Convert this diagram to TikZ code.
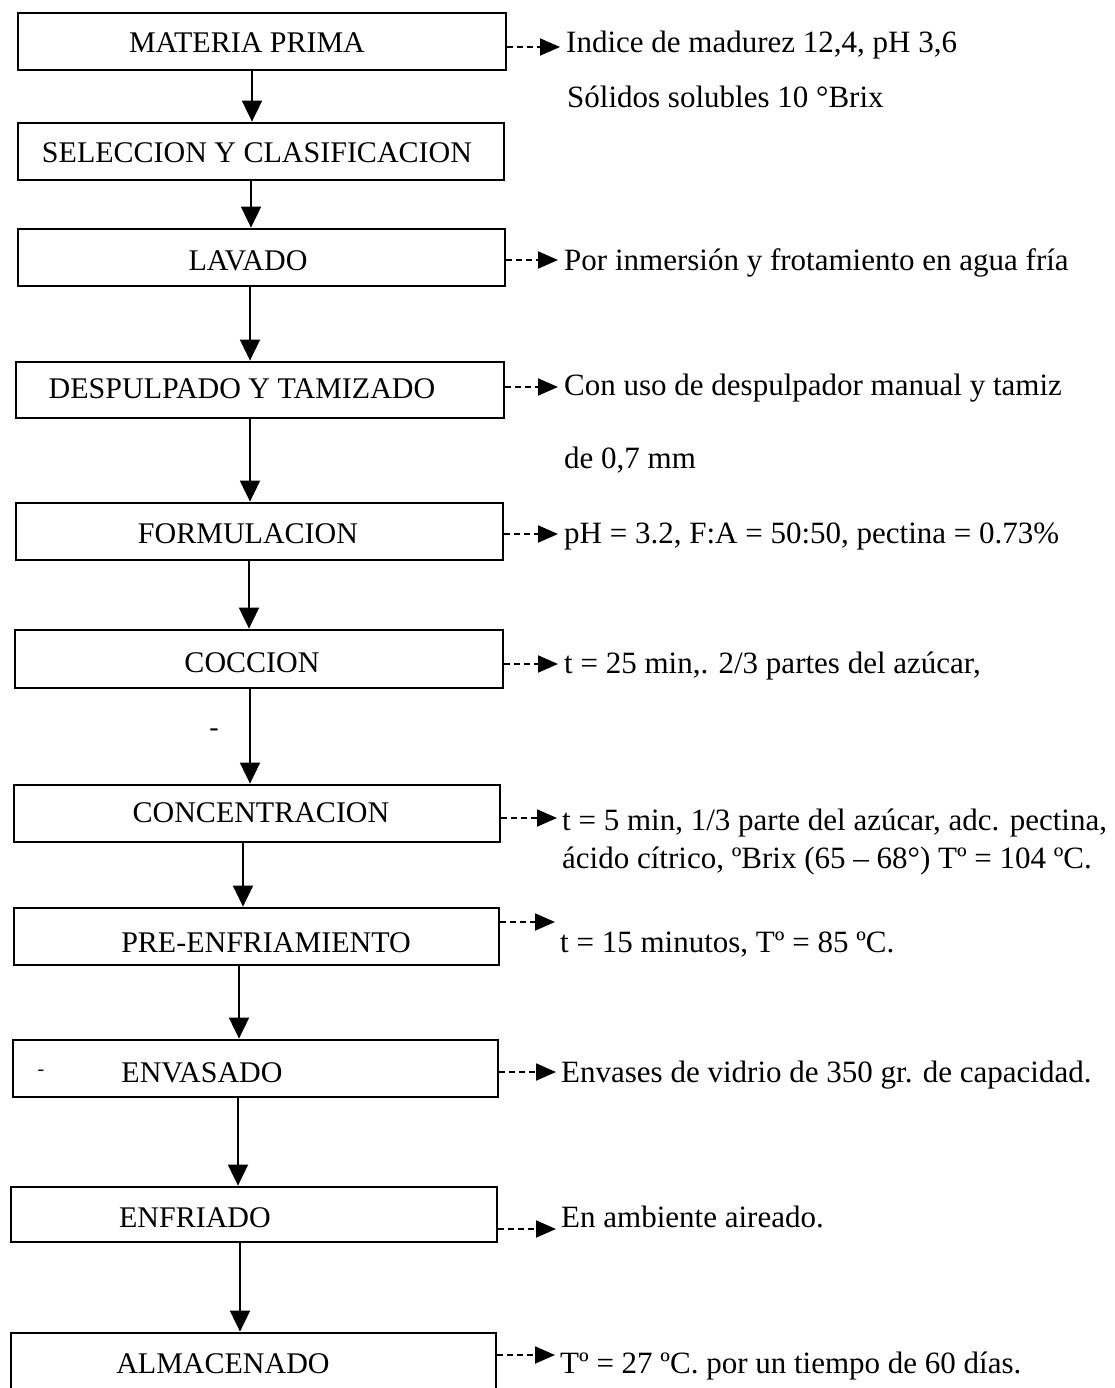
\documentclass[tikz,border=0pt]{standalone}
\usepackage{fontspec}
\setmainfont{Liberation Serif}
\usetikzlibrary{arrows.meta}
\begin{document}
\begin{tikzpicture}[x=1pt,y=-1pt,
  box/.style={draw, line width=2.8pt, inner sep=0pt, minimum height=57pt},
  lbl/.style={anchor=base, inner sep=0pt, font=\fontsize{30}{36}\selectfont},
  note/.style={anchor=base west, inner sep=0pt, font=\fontsize{31}{38}\selectfont},
  straymark/.style={anchor=base, inner sep=0pt, font=\fontsize{28}{32}\selectfont},
  flow/.style={line width=1.9pt, -{Triangle[length=21pt,width=20pt]}},
  side/.style={line width=1.9pt, dash pattern=on 6pt off 4pt, -{Triangle[length=20pt,width=17pt]}},
]
\useasboundingbox[fill=white] (0,0) rectangle (1115,1388);

% boxes
\node[box, minimum width=488pt] (b1) at (262,41.5) {};
\node[box, minimum width=486pt] (b2) at (261,151.5) {};
\node[box, minimum width=487pt] (b3) at (261.5,257.5) {};
\node[box, minimum width=488pt, minimum height=56pt] (b4) at (260,390) {};
\node[box, minimum width=487pt] (b5) at (259.5,531.5) {};
\node[box, minimum width=488pt, minimum height=58pt] (b6) at (259,659) {};
\node[box, minimum width=486pt] (b7) at (257,813.5) {};
\node[box, minimum width=485pt] (b8) at (256.5,936.5) {};
\node[box, minimum width=485pt] (b9) at (255.5,1068.5) {};
\node[box, minimum width=486pt, minimum height=55pt] (b10) at (254,1214.5) {};
\node[box, minimum width=485pt, minimum height=59pt] (b11) at (253.5,1362.5) {};

% box labels
\node[lbl] (t1) at (247,53) {MATERIA PRIMA};
\node[lbl] (t2) at (257,163) {SELECCION Y CLASIFICACION};
\node[lbl] (t3) at (248,270) {LAVADO};
\node[lbl] (t4) at (242,398) {DESPULPADO Y TAMIZADO};
\node[lbl] (t5) at (248,543) {FORMULACION};
\node[lbl] (t6) at (252,672) {COCCION};
\node[lbl] (t7) at (261,822) {CONCENTRACION};
\node[lbl] (t8) at (266,952) {PRE-ENFRIAMIENTO};
\node[lbl] (t9) at (202,1082) {ENVASADO};
\node[lbl] (t10) at (195,1227) {ENFRIADO};
\node[lbl] (t11) at (223,1373) {ALMACENADO};

% stray marks
\node[straymark] (m1) at (214,736) {-};
\node[straymark, font=\fontsize{20}{24}\selectfont] (m2) at (41,1075) {-};

% side notes
\node[note] (n1) at (566,53) {Indice de madurez 12,4, pH 3,6};
\node[note] (n1b) at (567,108) {Sólidos solubles 10 °Brix};
\node[note] (n3) at (564,270) {Por inmersión y frotamiento en agua fría};
\node[note] (n4) at (564,395) {Con uso de despulpador manual y tamiz};
\node[note] (n4b) at (564,468) {de 0,7 mm};
\node[note] (n5) at (564,543) {pH = 3.2, F:A = 50:50, pectina = 0.73\%};
\node[note] (n6) at (564,673) {t = 25 min,. 2/3 partes del azúcar,};
\node[note] (n7) at (562,830) {t = 5 min, 1/3 parte del azúcar, adc. pectina,};
\node[note] (n7b) at (562,868) {ácido cítrico, ºBrix (65 – 68°) Tº = 104 ºC.};
\node[note] (n8) at (560,952) {t = 15 minutos, Tº = 85 ºC.};
\node[note] (n9) at (561,1082) {Envases de vidrio de 350 gr. de capacidad.};
\node[note] (n10) at (561,1227) {En ambiente aireado.};
\node[note] (n11) at (560,1373) {Tº = 27 ºC. por un tiempo de 60 días.};

% side arrow ends
\coordinate (a1) at (560,47);
\coordinate (a3) at (558,260);
\coordinate (a4) at (558,387);
\coordinate (a5) at (558,534);
\coordinate (a6) at (558,664);
\coordinate (a7) at (557,818);
\coordinate (a8) at (555,922);
\coordinate (a9) at (556,1072);
\coordinate (a10) at (556,1229);
\coordinate (a11) at (555,1355);

\draw[side] (b1.east |- a1) -- (a1);
\draw[side] (b3.east |- a3) -- (a3);
\draw[side] (b4.east |- a4) -- (a4);
\draw[side] (b5.east |- a5) -- (a5);
\draw[side] (b6.east |- a6) -- (a6);
\draw[side] (b7.east |- a7) -- (a7);
\draw[side] (b8.east |- a8) -- (a8);
\draw[side] (b9.east |- a9) -- (a9);
\draw[side] (b10.east |- a10) -- (a10);
\draw[side] (b11.east |- a11) -- (a11);

% flow line x positions
\coordinate (x1) at (252,0);
\coordinate (x2) at (251,0);
\coordinate (x3) at (250,0);
\coordinate (x4) at (250,0);
\coordinate (x5) at (249,0);
\coordinate (x6) at (250,0);
\coordinate (x7) at (243,0);
\coordinate (x8) at (239,0);
\coordinate (x9) at (238,0);
\coordinate (x10) at (240,0);

\draw[flow] (b1.south -| x1) -- (b2.north -| x1);
\draw[flow] (b2.south -| x2) -- (b3.north -| x2);
\draw[flow] (b3.south -| x3) -- (b4.north -| x3);
\draw[flow] (b4.south -| x4) -- (b5.north -| x4);
\draw[flow] (b5.south -| x5) -- (b6.north -| x5);
\draw[flow] (b6.south -| x6) -- (b7.north -| x6);
\draw[flow] (b7.south -| x7) -- (b8.north -| x7);
\draw[flow] (b8.south -| x8) -- (b9.north -| x8);
\draw[flow] (b9.south -| x9) -- (b10.north -| x9);
\draw[flow] (b10.south -| x10) -- (b11.north -| x10);
\end{tikzpicture}
\end{document}
